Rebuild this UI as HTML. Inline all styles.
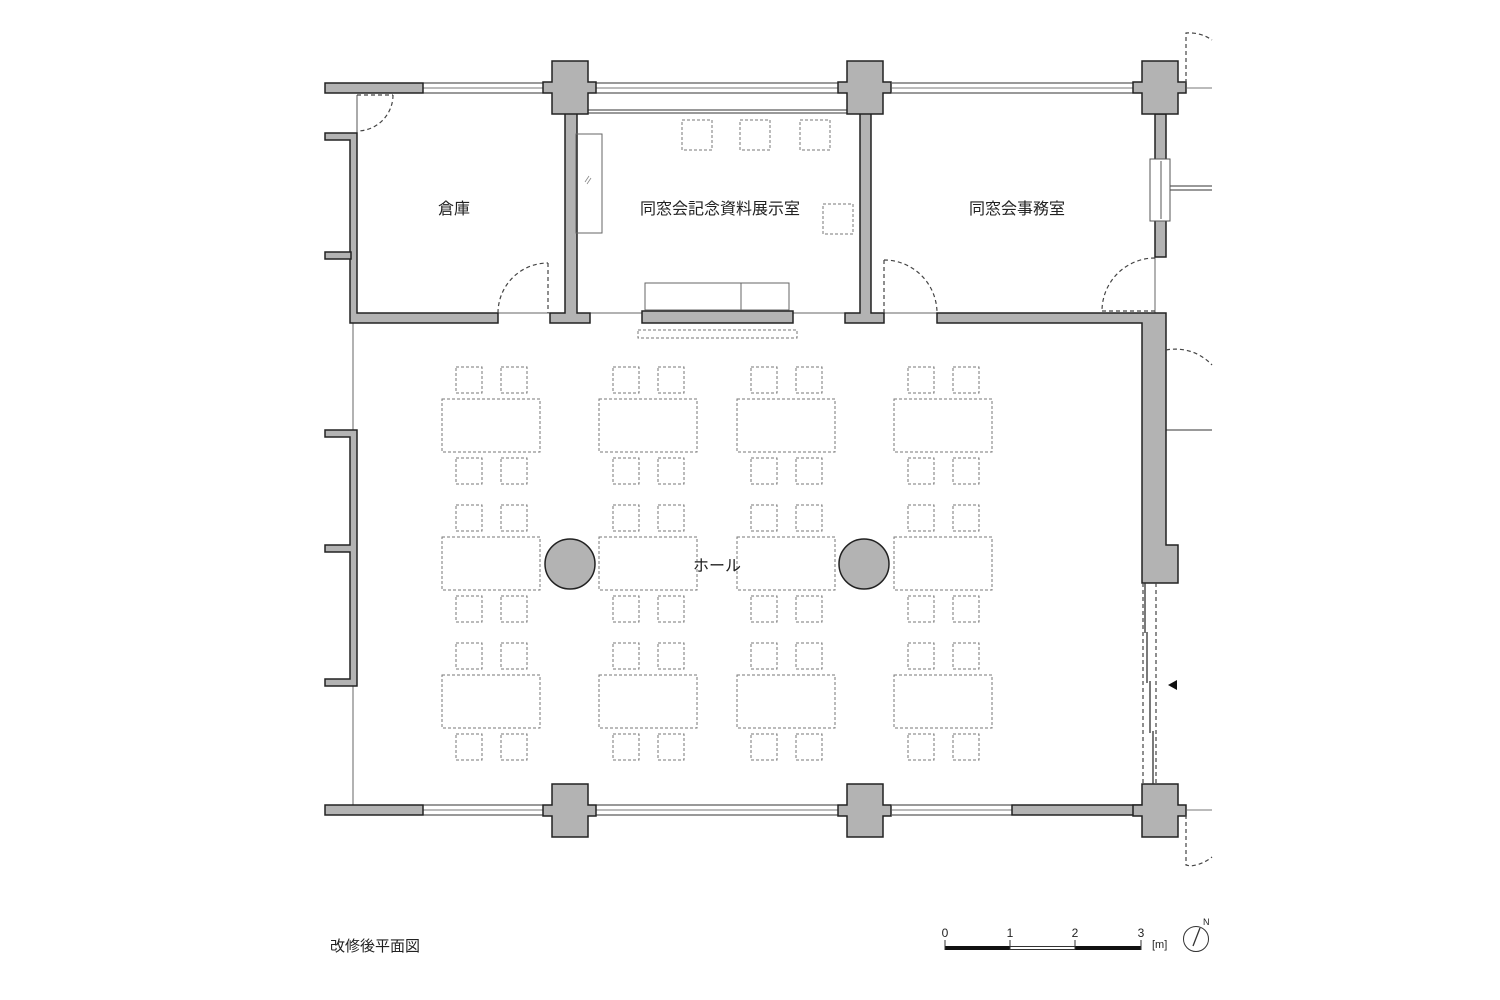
<!DOCTYPE html>
<html><head><meta charset="utf-8"><style>
html,body{margin:0;padding:0;background:#fff;}
svg{display:block;}
text{font-family:"Liberation Sans","Noto Sans CJK JP",sans-serif;fill:#222;}
</style></head><body>
<svg width="1500" height="1000" viewBox="0 0 1500 1000" xmlns="http://www.w3.org/2000/svg">
<defs>
  <g id="col">
    <path d="M9,0 H45 V21 H53 V32 H45 V53 H9 V32 H0 V21 H9 Z" fill="#b3b3b3" stroke="#222" stroke-width="1.5"/>
  </g>
  <g id="tbl" fill="none" stroke="#777" stroke-width="1" stroke-dasharray="3,2">
    <rect x="0" y="0" width="98" height="53"/>
    <rect x="14" y="-32" width="26" height="26"/>
    <rect x="59" y="-32" width="26" height="26"/>
    <rect x="14" y="59" width="26" height="26"/>
    <rect x="59" y="59" width="26" height="26"/>
  </g>
  <g id="win">
    <line x1="0" y1="0" x2="1" y2="0"/>
  </g>
</defs>

<!-- windows (top) -->
<g stroke="#333" stroke-width="1" fill="none">
  <line x1="423" y1="83" x2="548" y2="83"/><line x1="423" y1="93" x2="548" y2="93"/><line x1="423" y1="88" x2="548" y2="88" stroke="#777"/>
  <line x1="596" y1="83" x2="838" y2="83"/><line x1="596" y1="93" x2="838" y2="93"/><line x1="596" y1="88" x2="838" y2="88" stroke="#777"/>
  <line x1="892" y1="83" x2="1133" y2="83"/><line x1="892" y1="93" x2="1133" y2="93"/><line x1="892" y1="88" x2="1133" y2="88" stroke="#777"/>
  <line x1="588" y1="110" x2="847" y2="110"/><line x1="588" y1="113" x2="847" y2="113"/>
  <!-- bottom windows -->
  <line x1="423" y1="805" x2="548" y2="805"/><line x1="423" y1="815" x2="548" y2="815"/><line x1="423" y1="810" x2="548" y2="810" stroke="#777"/>
  <line x1="596" y1="805" x2="838" y2="805"/><line x1="596" y1="815" x2="838" y2="815"/><line x1="596" y1="810" x2="838" y2="810" stroke="#777"/>
  <line x1="892" y1="805" x2="1012" y2="805"/><line x1="892" y1="815" x2="1012" y2="815"/><line x1="892" y1="810" x2="1012" y2="810" stroke="#777"/>
  <!-- right outside -->
  <line x1="1187" y1="88" x2="1212" y2="88" stroke="#777"/>
  <line x1="1170" y1="186" x2="1212" y2="186"/><line x1="1170" y1="190" x2="1212" y2="190"/>
  <line x1="1166" y1="430" x2="1212" y2="430"/>
  <line x1="1187" y1="810" x2="1212" y2="810" stroke="#777"/>
  <!-- thin lines -->
  <line x1="357" y1="95" x2="357" y2="133" stroke="#555"/>
  <line x1="357" y1="313" x2="1142" y2="313" stroke="#666"/>
  <line x1="353" y1="323" x2="353" y2="805" stroke="#666"/>
  <line x1="1155" y1="257" x2="1155" y2="313" stroke="#666"/>
</g>

<!-- walls -->
<g fill="#b3b3b3" stroke="#222" stroke-width="1.5">
  <rect x="325" y="83" width="98" height="10"/>
  <rect x="325" y="805" width="98" height="10"/>
  <rect x="1012" y="805" width="130" height="10"/>
  <!-- storage walls -->
  <path d="M325,133 H357 V313 H498 V323 H350 V140 H325 Z"/>
  <rect x="325" y="252" width="26" height="7"/>
  <path d="M565,113 H577 V313 H590 V323 H550 V313 H565 Z"/>
  <path d="M860,113 H871 V313 H884 V323 H845 V313 H860 Z"/>
  <path d="M937,313 H1166 V545 H1178 V583 H1142 V323 H937 Z"/>
  <rect x="1155" y="114" width="11" height="46"/>
  <rect x="1155" y="220" width="11" height="37"/>
  <path d="M325,430 H357 V686 H325 V679 H350 V552 H325 V545 H350 V437 H325 Z"/>
  <rect x="642" y="311" width="151" height="12"/>
</g>
<use href="#col" x="543" y="61"/>
<use href="#col" x="838" y="61"/>
<use href="#col" x="1133" y="61"/>
<use href="#col" x="543" y="784"/>
<use href="#col" x="838" y="784"/>
<use href="#col" x="1133" y="784"/>

<!-- office window frame -->
<rect x="1150" y="159" width="20" height="62" fill="#fff" stroke="#555" stroke-width="1"/>
<line x1="1161" y1="161" x2="1161" y2="219" stroke="#555"/>

<!-- doors -->
<g fill="none" stroke="#444" stroke-width="1.2" stroke-dasharray="4,3">
  <path d="M393,95 A36,36 0 0 1 357,131"/>
  <line x1="357" y1="95" x2="393" y2="95"/>
  <path d="M498,313 A50,50 0 0 1 548,263"/>
  <line x1="548" y1="263" x2="548" y2="313"/>
  <path d="M884,260 A53,53 0 0 1 937,313"/>
  <line x1="884" y1="260" x2="884" y2="313"/>
  <path d="M1155,258 A53,53 0 0 0 1102,311"/>
  <line x1="1102" y1="311" x2="1155" y2="311"/>
  <path d="M1186,83 V33 A40,40 0 0 1 1212,40"/>
  <path d="M1166,350 A50,50 0 0 1 1212,365"/>
  <path d="M1186,815 V865 L1190,866 A40,40 0 0 0 1212,857"/>
  <line x1="1143" y1="583" x2="1143" y2="784"/>
  <line x1="1156" y1="583" x2="1156" y2="784"/>
</g>
<g stroke="#333" stroke-width="1.3">
  <line x1="1145" y1="583" x2="1145" y2="633"/>
  <line x1="1147" y1="632" x2="1147" y2="683"/>
  <line x1="1150" y1="681" x2="1150" y2="733"/>
  <line x1="1153" y1="731" x2="1153" y2="784"/>
</g>
<polygon points="1168,685 1177,680 1177,690" fill="#111"/>

<!-- exhibit furniture -->
<rect x="576" y="134" width="26" height="99" fill="none" stroke="#666"/>
<line x1="585" y1="182" x2="589" y2="176" stroke="#888" stroke-width="0.8"/>
<line x1="587" y1="184" x2="591" y2="178" stroke="#888" stroke-width="0.8"/>
<rect x="645" y="283" width="144" height="27" fill="none" stroke="#666"/>
<line x1="741" y1="283" x2="741" y2="310" stroke="#666"/>
<g fill="none" stroke="#777" stroke-dasharray="3,2">
  <rect x="682" y="120" width="30" height="30"/>
  <rect x="740" y="120" width="30" height="30"/>
  <rect x="800" y="120" width="30" height="30"/>
  <rect x="823" y="204" width="30" height="30"/>
  <rect x="638" y="330" width="159" height="8"/>
</g>

<!-- hall tables -->
<use href="#tbl" x="442" y="399"/><use href="#tbl" x="599" y="399"/><use href="#tbl" x="737" y="399"/><use href="#tbl" x="894" y="399"/>
<use href="#tbl" x="442" y="537"/><use href="#tbl" x="599" y="537"/><use href="#tbl" x="737" y="537"/><use href="#tbl" x="894" y="537"/>
<use href="#tbl" x="442" y="675"/><use href="#tbl" x="599" y="675"/><use href="#tbl" x="737" y="675"/><use href="#tbl" x="894" y="675"/>
<circle cx="570" cy="564" r="25" fill="#b3b3b3" stroke="#222" stroke-width="1.5"/>
<circle cx="864" cy="564" r="25" fill="#b3b3b3" stroke="#222" stroke-width="1.5"/>

<!-- labels -->
<text x="454" y="214" font-size="16" text-anchor="middle">倉庫</text>
<text x="720" y="214" font-size="16" text-anchor="middle">同窓会記念資料展示室</text>
<text x="1017" y="214" font-size="16" text-anchor="middle">同窓会事務室</text>
<text x="717" y="571" font-size="16" text-anchor="middle">ホール</text>
<text x="330" y="951" font-size="15">改修後平面図</text>

<!-- scale -->
<rect x="945" y="946" width="65" height="4" fill="#111"/>
<rect x="1010" y="946.5" width="65" height="3" fill="#fff" stroke="#333" stroke-width="1"/>
<rect x="1075" y="946" width="66" height="4" fill="#111"/>
<g stroke="#333"><line x1="945" y1="940" x2="945" y2="950"/><line x1="1010" y1="940" x2="1010" y2="950"/><line x1="1075" y1="940" x2="1075" y2="950"/><line x1="1141" y1="940" x2="1141" y2="950"/></g>
<g font-size="12" text-anchor="middle"><text x="945" y="937">0</text><text x="1010" y="937">1</text><text x="1075" y="937">2</text><text x="1141" y="937">3</text></g>
<text x="1152" y="948" font-size="11">[m]</text>
<circle cx="1196" cy="939" r="12.5" fill="none" stroke="#333"/>
<line x1="1193" y1="946" x2="1200" y2="928" stroke="#333" stroke-width="1.3"/>
<text x="1203" y="925" font-size="9">N</text>
</svg>
</body></html>
